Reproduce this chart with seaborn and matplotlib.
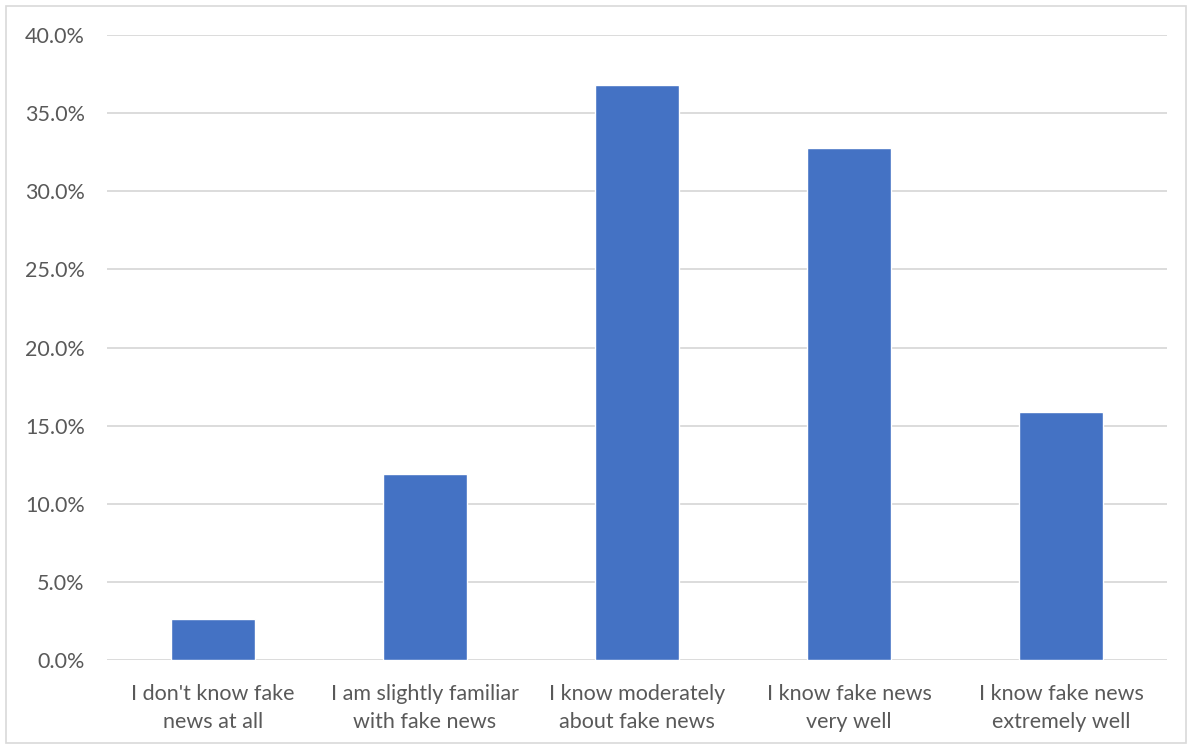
import matplotlib
matplotlib.use("Agg")
import matplotlib.pyplot as plt
import seaborn as sns
import pandas as pd
from matplotlib.ticker import PercentFormatter
from matplotlib.patches import Rectangle

categories = [
    "I don't know fake\nnews at all",
    "I am slightly familiar\nwith fake news",
    "I know moderately\nabout fake news",
    "I know fake news\nvery well",
    "I know fake news\nextremely well",
]
shares = [2.6, 11.9, 36.8, 32.8, 15.9]
y_ticks = [0, 5, 10, 15, 20, 25, 30, 35, 40]

df = pd.DataFrame({"category": categories, "share": shares})

sns.set_theme(style="white")
plt.rcParams["font.family"] = ["Lato", "DejaVu Sans"]

fig = plt.figure(figsize=(11.92, 7.49), dpi=100)
ax = fig.add_axes([107 / 1192, 1 - 660 / 749, 1060 / 1192, 625 / 749])

sns.barplot(data=df, x="category", y="share", color="#4472C4",
            width=0.4, saturation=1, ax=ax, zorder=3)

ax.set_ylim(0, 40)
ax.set_xlim(-0.5, len(categories) - 0.5)
ax.set_yticks(y_ticks)
ax.yaxis.set_major_formatter(PercentFormatter(decimals=1))
ax.grid(axis="y", color="#D9D9D9", linewidth=1.3, zorder=0)
ax.grid(axis="x", visible=False)
for s in ax.spines.values():
    s.set_visible(False)
ax.set_xlabel("")
ax.set_ylabel("")
ax.tick_params(axis="y", length=0, pad=16, labelsize=15.5, labelcolor="#595959")
ax.tick_params(axis="x", length=0, pad=17, labelsize=15.5, labelcolor="#595959")
for lbl in ax.get_xticklabels():
    lbl.set_linespacing(1.5)

# chart area border
fig.patches.append(Rectangle((6 / 1192, 6 / 749), 1 - 12 / 1192, 1 - 12 / 749,
                             transform=fig.transFigure, fill=False,
                             edgecolor="#D9D9D9", linewidth=1.2))

fig.savefig("out.png", dpi=100)
